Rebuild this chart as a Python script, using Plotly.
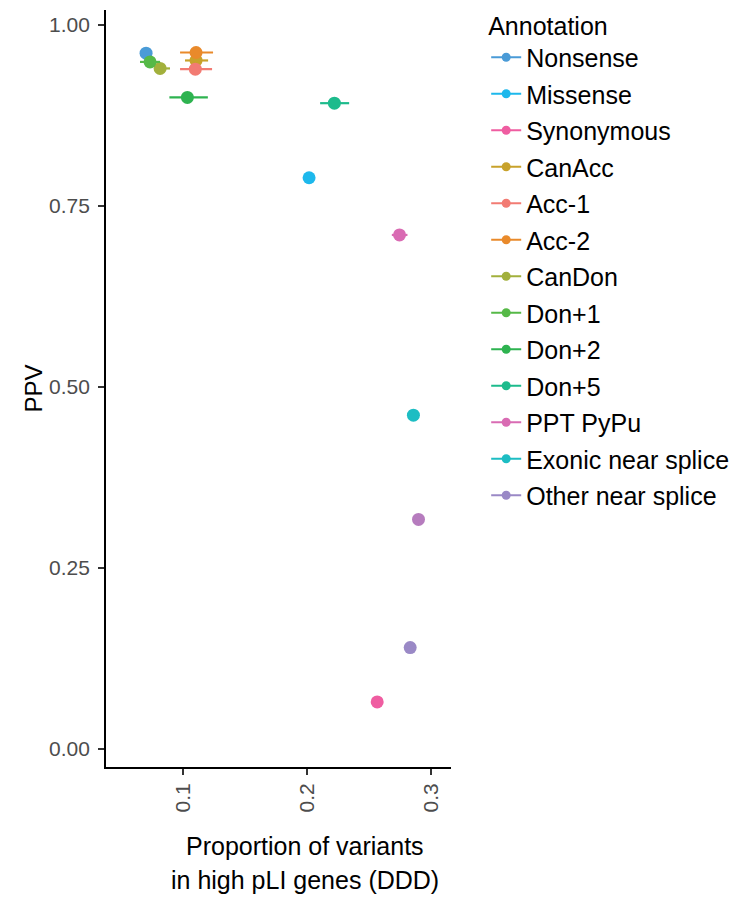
import plotly.graph_objects as go

categories = ["Nonsense", "Missense", "Synonymous", "CanAcc", "Acc-1", "Acc-2",
              "CanDon", "Don+1", "Don+2", "Don+5", "PPT PyPu",
              "Exonic near splice", "Other near splice"]
prop_high_pli = [0.0702, 0.2016, 0.2565, 0.1105, 0.1099, 0.1105,
                 0.0815, 0.0734, 0.1035, 0.2220, 0.2745, 0.2857, 0.2831]
ppv = [0.961, 0.789, 0.065, 0.951, 0.939, 0.962,
       0.940, 0.949, 0.900, 0.892, 0.710, 0.461, 0.140]
ci_low = [0.0702, 0.2016, 0.2565, 0.1016, 0.0976, 0.0976,
          0.0774, 0.0653, 0.0890, 0.2105, 0.2683, 0.2857, 0.2831]
ci_high = [0.0702, 0.2016, 0.2565, 0.1202, 0.1234, 0.1242,
           0.0895, 0.0815, 0.1200, 0.2339, 0.2809, 0.2857, 0.2831]
colors = ["#4A9BD7", "#1DB8EC", "#EF5DA1", "#C8A22B", "#F27B73", "#E98A2B",
          "#A2B03C", "#56B947", "#2EB350", "#1DBB8C", "#D96BB3",
          "#1DBDC3", "#9A89C6"]

# one further point visible in the figure without a legend entry
extra_x = [0.2898]
extra_y = [0.317]
extra_color = "#B67CBE"

x_ticks = [0.1, 0.2, 0.3]
x_ticklabels = ["0.1", "0.2", "0.3"]
y_ticks = [0.0, 0.25, 0.5, 0.75, 1.0]
y_ticklabels = ["0.00", "0.25", "0.50", "0.75", "1.00"]
x_title_lines = ["Proportion of variants", "in high pLI genes (DDD)"]

fig = go.Figure()

# data points with horizontal error bars
for i, cat in enumerate(categories):
    fig.add_trace(go.Scatter(
        x=[prop_high_pli[i]], y=[ppv[i]], mode="markers", name=cat,
        showlegend=False,
        marker=dict(size=13, color=colors[i], line=dict(width=0)),
        error_x=dict(type="data", symmetric=False,
                     array=[ci_high[i] - prop_high_pli[i]],
                     arrayminus=[prop_high_pli[i] - ci_low[i]],
                     width=0, thickness=2.2, color=colors[i]),
    ))

fig.add_trace(go.Scatter(
    x=extra_x, y=extra_y, mode="markers", showlegend=False,
    marker=dict(size=13, color=extra_color, line=dict(width=0)),
))

# legend keys
for i, cat in enumerate(categories):
    fig.add_trace(go.Scatter(
        x=[None], y=[None], mode="lines+markers", name=cat,
        legendgroup=cat,
        line=dict(color=colors[i], width=2),
        marker=dict(size=9, color=colors[i]),
    ))

fig.update_layout(
    width=745, height=899,
    margin=dict(l=106, r=294, t=2, b=132),
    paper_bgcolor="white", plot_bgcolor="white",
    font=dict(family="Liberation Sans, Arial, sans-serif", color="black"),
    showlegend=True,
    legend=dict(
        x=1.102, xanchor="left", y=1.0, yanchor="top",
        title=dict(text="Annotation", font=dict(size=25, color="black")),
        font=dict(size=25, color="black"),
        traceorder="grouped", tracegroupgap=1,
        itemwidth=30, maxheight=880,
        bgcolor="rgba(0,0,0,0)",
    ),
    xaxis=dict(
        range=[0.0379, 0.316], automargin=False,
        tickmode="array", tickvals=x_ticks, ticktext=x_ticklabels,
        tickangle=-90,
        tickfont=dict(size=21, color="#4D4D4D"),
        ticks="outside", ticklen=6, tickwidth=1.5, tickcolor="#333333",
        showline=True, linecolor="black", linewidth=1.8,
        showgrid=False, zeroline=False,
    ),
    yaxis=dict(
        range=[-0.0249, 1.0207], automargin=False,
        domain=[0, 0.989542],
        tickmode="array", tickvals=y_ticks, ticktext=y_ticklabels,
        tickfont=dict(size=21, color="#4D4D4D"),
        ticks="outside", ticklen=6, tickwidth=1.5, tickcolor="#333333",
        ticklabelstandoff=4,
        showline=True, linecolor="black", linewidth=1.8,
        showgrid=False, zeroline=False,
        title=dict(text="PPV", font=dict(size=24, color="black"), standoff=0),
    ),
    annotations=[
        dict(text=x_title_lines[0], xref="paper", yref="paper",
             x=0.577, y=-0.10327, xanchor="center", yanchor="middle",
             showarrow=False, font=dict(size=25, color="black")),
        dict(text=x_title_lines[1], xref="paper", yref="paper",
             x=0.577, y=-0.14771, xanchor="center", yanchor="middle",
             showarrow=False, font=dict(size=25, color="black")),
    ],
)

fig.write_html("out.html", config={"displayModeBar": False},
               post_script="document.body.style.margin='0';")
